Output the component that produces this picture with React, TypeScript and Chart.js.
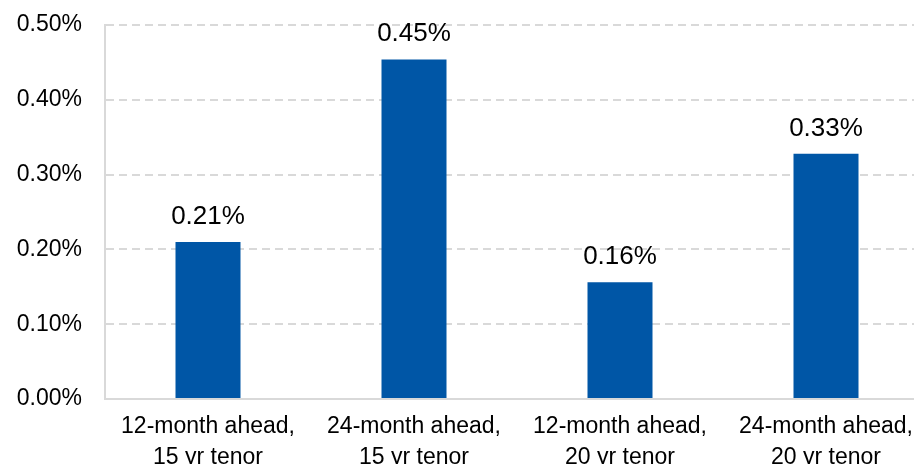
import React, { useEffect, useRef } from "react";
import { Chart, registerables } from "chart.js";

Chart.register(...registerables);

const categories: string[][] = [
  ["12-month ahead,", "15 yr tenor"],
  ["24-month ahead,", "15 yr tenor"],
  ["12-month ahead,", "20 yr tenor"],
  ["24-month ahead,", "20 yr tenor"],
];
const values: number[] = [0.21, 0.454, 0.156, 0.328];
const yTicks: number[] = [0, 0.1, 0.2, 0.3, 0.4, 0.5];

const FONT = "'Liberation Sans', Arial, sans-serif";

const dataLabelPlugin = {
  id: "dataLabels",
  afterDatasetsDraw(chart: any) {
    const ctx = chart.ctx;
    const meta = chart.getDatasetMeta(0);
    ctx.save();
    ctx.font = `26px ${FONT}`;
    ctx.fillStyle = "#000";
    ctx.textAlign = "center";
    ctx.textBaseline = "alphabetic";
    meta.data.forEach((bar: any, i: number) => {
      const v = chart.data.datasets[0].data[i] as number;
      ctx.fillText(v.toFixed(2) + "%", bar.x, bar.y - 18);
    });
    ctx.restore();
  },
};

export default function App() {
  const ref = useRef<HTMLCanvasElement>(null);
  useEffect(() => {
    if (!ref.current) return;
    const chart = new Chart(ref.current, {
      type: "bar",
      data: {
        labels: categories,
        datasets: [
          {
            data: values,
            backgroundColor: "#0056A6",
            barPercentage: 1,
            categoryPercentage: 65 / 206,
          },
        ],
      },
      options: {
        responsive: false,
        animation: false,
        devicePixelRatio: 1,
        layout: { padding: { top: 25, left: 0, right: 0, bottom: 0 } },
        plugins: {
          legend: { display: false },
          tooltip: { enabled: false },
        },
        scales: {
          x: {
            grid: { display: false, drawTicks: false },
            border: { display: true, color: "#d9d9d9", width: 2 },
            ticks: {
              color: "#000",
              font: { family: FONT, size: 23, lineHeight: 1.35 },
              padding: 12,
              maxRotation: 0,
              autoSkip: false,
            },
            afterFit: (s: any) => {
              s.height = 65;
            },
          },
          y: {
            min: 0,
            max: 0.5,
            afterBuildTicks: (s: any) => {
              s.ticks = yTicks.map((v) => ({ value: v }));
            },
            grid: {
              drawTicks: false,
              lineWidth: 2,
              color: (c: any) =>
                c.tick && c.tick.value === 0 ? "rgba(0,0,0,0)" : "#d9d9d9",
            },
            border: { display: true, color: "#d9d9d9", width: 2, dash: [8, 5] },
            ticks: {
              color: "#000",
              font: { family: FONT, size: 23 },
              padding: 23,
              callback: (v: any) => Number(v).toFixed(2) + "%",
            },
            afterFit: (s: any) => {
              s.width = 105;
              s.paddingTop = 0;
              s.paddingBottom = 0;
            },
          },
        },
      },
      plugins: [dataLabelPlugin],
    });
    return () => chart.destroy();
  }, []);
  return (
    <div
      style={{
        position: "absolute",
        left: 0,
        top: 0,
        width: 914,
        height: 464,
        overflow: "hidden",
        background: "#fff",
      }}
    >
      <canvas ref={ref} width={929} height={464} style={{ width: 929, height: 464, display: "block" }} />
    </div>
  );
}
